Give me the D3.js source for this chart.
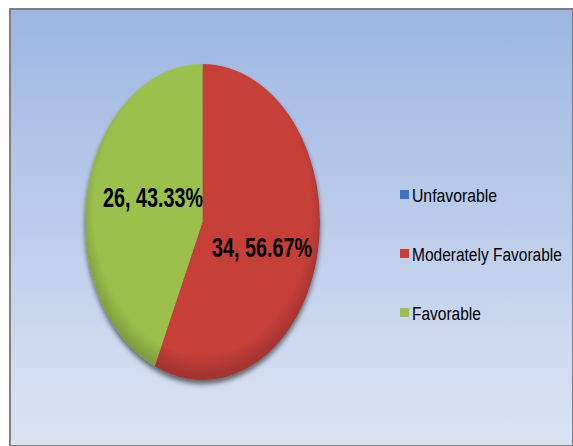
<!DOCTYPE html>
<html><head><meta charset="utf-8">
<script src="https://cdn.jsdelivr.net/npm/d3@7"></script>
<style>html,body{margin:0;padding:0;background:#fff;}svg{display:block;}</style>
</head><body>
<script>
const categories = ["Unfavorable", "Moderately Favorable", "Favorable"];
const values = [0, 34, 26];
const percentLabels = ["0.00%", "56.67%", "43.33%"];
const colors = ["#3E74BC", "#C63F39", "#9BC04B"];

const W = 573, H = 446;
const svg = d3.select("body").append("svg").attr("width", W).attr("height", H);
const defs = svg.append("defs");

const bg = defs.append("linearGradient").attr("id","bg").attr("x1",0).attr("y1",0).attr("x2",0).attr("y2",1);
bg.append("stop").attr("offset","0%").attr("stop-color","#9CB6E2");
bg.append("stop").attr("offset","100%").attr("stop-color","#DCE4F3");

const sh = defs.append("filter").attr("id","shadow").attr("x","-20%").attr("y","-20%").attr("width","140%").attr("height","140%");
sh.append("feGaussianBlur").attr("in","SourceAlpha").attr("stdDeviation",2.5);
sh.append("feOffset").attr("dy",4).attr("result","ob");
sh.append("feComponentTransfer").append("feFuncA").attr("type","linear").attr("slope",0.55);
const m = sh.append("feMerge"); m.append("feMergeNode"); m.append("feMergeNode").attr("in","SourceGraphic");

const R = 100;
colors.forEach((c,i)=>{
  const g = defs.append("radialGradient").attr("id","g"+i).attr("gradientUnits","userSpaceOnUse")
    .attr("cx",0).attr("cy",-8).attr("r",R*1.05);
  g.append("stop").attr("offset","0%").attr("stop-color", c);
  g.append("stop").attr("offset","88%").attr("stop-color", c);
  g.append("stop").attr("offset","100%").attr("stop-color", d3.color(c).darker(0.55));
});

// frame
svg.append("rect").attr("x",10).attr("y",9).attr("width",W-10).attr("height",H-9)
  .attr("fill","url(#bg)").attr("stroke","#7f7f7f").attr("stroke-width",2);

// pie
const cx = 202.5, cy = 222, rx = 117.5, ry = 158;
const pie = d3.pie().sort(null).value(d=>d.v);
const arcs = pie(categories.map((c,i)=>({c, v: values[i], i})));
const arc = d3.arc().innerRadius(0).outerRadius(R);

const pg = svg.append("g").attr("filter","url(#shadow)");
const inner = pg.append("g").attr("transform",`translate(${cx},${cy}) scale(${rx/R},${ry/R})`);
inner.selectAll("path").data(arcs.filter(a=>a.data.v>0)).join("path")
  .attr("d",arc).attr("fill",d=>`url(#g${d.data.i})`);

const FONT = "'Liberation Sans Narrow','Liberation Sans',Arial,sans-serif";
function fitText(sel, x, y, w, anchor) {
  const n = sel.node().getComputedTextLength();
  const s = w / n;
  const x0 = anchor === "middle" ? x - w/2 : x;
  sel.attr("text-anchor","start").attr("x",0).attr("y",0)
     .attr("transform",`translate(${x0},${y}) scale(${s},1)`);
}

// labels
const labelPos = [null, [262, 257], [153, 207]];
arcs.forEach(a=>{
  if (a.data.v <= 0) return;
  const p = labelPos[a.data.i];
  const t = svg.append("text")
    .attr("font-family",FONT).attr("font-weight","bold").attr("font-size",27).attr("fill","#000")
    .text(`${values[a.data.i]}, ${percentLabels[a.data.i]}`);
  fitText(t, p[0], p[1], 100, "middle");
});

// legend
const lx = 400, ly0 = 202, lstep = 59;
const textW = [85, 150, 69];
categories.forEach((c,i)=>{
  const y = ly0 + i*lstep;
  svg.append("rect").attr("x",lx).attr("y",y-12).attr("width",9).attr("height",9).attr("fill",colors[i]);
  const t = svg.append("text").attr("font-family",FONT).attr("font-size",19).attr("fill","#000").text(c);
  fitText(t, lx+12, y, textW[i], "start");
});
</script>
</body></html>
